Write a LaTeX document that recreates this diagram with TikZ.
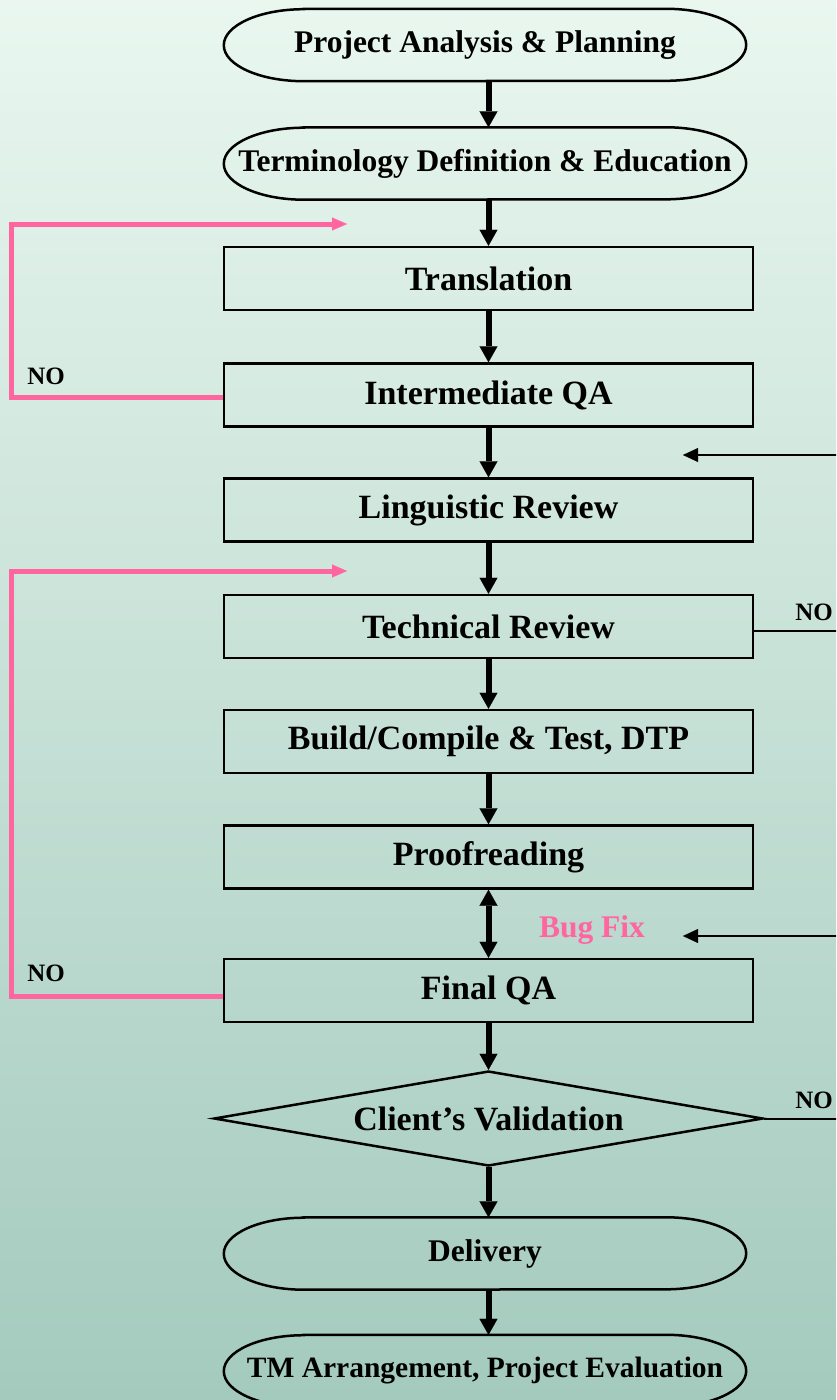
\documentclass[tikz,border=0pt]{standalone}
\usepackage{fontspec}
\setmainfont{Liberation Serif}
\usetikzlibrary{arrows.meta,shapes.geometric}

\definecolor{loopink}{RGB}{255,102,160}
\definecolor{bgtop}{RGB}{233,247,239}
\definecolor{bgmid}{RGB}{205,229,219}
\definecolor{bgbot}{RGB}{164,202,190}

\tikzset{
  stepbox/.style={draw, line width=2.5pt, minimum width=529pt, minimum height=63pt,
    inner sep=0pt, font=\bfseries\fontsize{34}{40}\selectfont},
  termbox/.style={minimum width=522pt, minimum height=72pt, inner sep=0pt,
    font=\bfseries\fontsize{31.5}{36}\selectfont},
  decision/.style={draw, diamond, aspect=5.8, line width=2.5pt, minimum width=549pt,
    minimum height=95pt, inner sep=0pt, font=\bfseries\fontsize{34}{40}\selectfont},
  flow/.style={-{Triangle[length=16pt,width=18pt,line width=0.1pt]}, line width=6pt},
  twoway/.style={{Triangle[length=16pt,width=18pt,line width=0.1pt]}-{Triangle[length=16pt,width=18pt,line width=0.1pt]}, line width=6pt},
  back/.style={-{Triangle[length=15pt,width=13pt,line width=0.1pt]}, line width=5pt, loopink},
  side/.style={line width=2pt},
  sidearrow/.style={-{Triangle[length=15pt,width=14pt,line width=0.1pt]}, line width=2pt},
  nolabel/.style={font=\bfseries\fontsize{25}{30}\selectfont}
}

% outline of a terminal node: straight sides, elliptic ends
\newcommand\stadium[1]{%
  \draw[line width=2.5pt] ([xshift=80pt]#1.north west) -- ([xshift=-80pt]#1.north east)
    arc[start angle=90, end angle=-90, x radius=80pt, y radius=36pt]
    -- ([xshift=80pt]#1.south west)
    arc[start angle=270, end angle=90, x radius=80pt, y radius=36pt] -- cycle;}

\begin{document}
\begin{tikzpicture}[x=1pt, y=-1pt]
    % Background
    \clip (0,0) rectangle (836,1400);
    \shade[top color=bgtop, middle color=bgmid, bottom color=bgbot] (0,0) rectangle (836,1400);

    % Main steps
    \node[termbox] (plan) at (485,45) {Project Analysis \& Planning};
    \node[termbox] (term) at (485,163.5) {Terminology Definition \& Education};
    \node[stepbox] (trans) at (488.5,278.5) {Translation};
    \node[stepbox] (iqa) at (488.5,395) {Intermediate QA};
    \node[stepbox] (ling) at (488.5,510) {Linguistic Review};
    \node[stepbox] (tech) at (488.5,626.5) {Technical Review};
    \node[stepbox] (build) at (488.5,741.5) {Build/Compile \& Test, DTP};
    \node[stepbox] (proof) at (488.5,857) {Proofreading};
    \node[stepbox] (fqa) at (488.5,990.5) {Final QA};
    \node[decision] (valid) at (488.5,1118.5) {Client’s Validation};
    \node[termbox] (deliv) at (485,1253.5) {Delivery};
    \node[termbox, font=\bfseries\fontsize{29.5}{34}\selectfont] (tmeval) at (485,1371) {TM Arrangement, Project Evaluation};
    \stadium{plan}
    \stadium{term}
    \stadium{deliv}
    \stadium{tmeval}

    % Flow arrows
    \draw[flow] (plan.south -| trans) -- (trans.north |- term.north);
    \draw[flow] (term.south -| trans) -- (trans);
    \draw[flow] (trans) -- (iqa);
    \draw[flow] (iqa) -- (ling);
    \draw[flow] (ling) -- (tech);
    \draw[flow] (tech) -- (build);
    \draw[flow] (build) -- (proof);
    \draw[twoway] (proof) -- (fqa);
    \draw[flow] (fqa) -- (valid);
    \draw[flow] (valid) -- (valid |- deliv.north);
    \draw[flow] (deliv.south -| valid) -- (valid |- tmeval.north);

    % Loops back (left)
    \coordinate (backa) at (347,224);
    \coordinate (backb) at (347,571);
    \draw[back] ([yshift=-2pt]iqa.west) -| (11,224) -- (backa);
    \draw[back] ([yshift=-6pt]fqa.west) -| (11,571) -- (backb);
    \node[nolabel] (noa) at (46,376) {NO};
    \node[nolabel] (nob) at (46,973) {NO};

    % Right side
    \coordinate (ina) at (850,455);
    \coordinate (tipa) at (683,455);
    \coordinate (inb) at (850,936);
    \coordinate (tipb) at (683,936);
    \coordinate (outa) at (850,631);
    \coordinate (outb) at (850,1118.5);
    \draw[sidearrow] (ina) -- (tipa);
    \draw[sidearrow] (inb) -- (tipb);
    \draw[side] ([yshift=-4.5pt]tech.east) -- (outa);
    \draw[side] (valid.east) -- (outb);
    \node[nolabel] (noc) at (814,612) {NO};
    \node[nolabel] (nod) at (814,1100) {NO};
    \node[anchor=base, loopink, font=\bfseries\fontsize{31.5}{36}\selectfont] (bugfix) at (592,937) {Bug Fix};
\end{tikzpicture}
\end{document}
